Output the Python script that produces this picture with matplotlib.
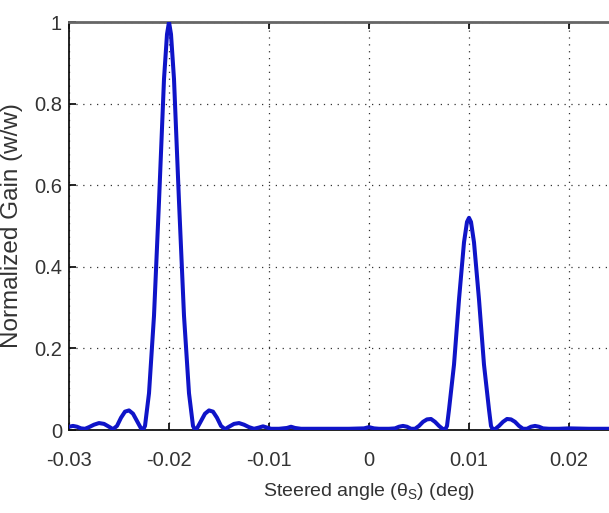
import matplotlib
matplotlib.use("Agg")
import matplotlib.pyplot as plt

# ---- data ----
angle = [-0.0300, -0.0296, -0.0292, -0.0288, -0.0284, -0.0280, -0.0275, -0.0270, -0.0265,
         -0.0260, -0.0256, -0.0252, -0.0248, -0.0244, -0.0240, -0.0236, -0.0232, -0.0228,
         -0.0226, -0.0224, -0.0220, -0.0215, -0.0210, -0.0205, -0.0202, -0.0200, -0.0198,
         -0.0195, -0.0190, -0.0185, -0.0180, -0.0176, -0.0174, -0.0172, -0.0168, -0.0164,
         -0.0160, -0.0156, -0.0152, -0.0148, -0.0144, -0.0140, -0.0135, -0.0130, -0.0125,
         -0.0120, -0.0115, -0.0110, -0.0106, -0.0102, -0.0098, -0.0090, -0.0082, -0.0078,
         -0.0074, -0.0068, -0.0060, -0.0040, -0.0020, -0.0005, 0.0000, 0.0005, 0.0010,
         0.0020, 0.0026, 0.0030, 0.0034, 0.0038, 0.0042, 0.0046, 0.0050, 0.0054, 0.0058,
         0.0062, 0.0066, 0.0070, 0.0074, 0.0076, 0.0078, 0.0080, 0.0085, 0.0090, 0.0095,
         0.0098, 0.0100, 0.0102, 0.0105, 0.0110, 0.0115, 0.0120, 0.0122, 0.0124, 0.0126,
         0.0130, 0.0134, 0.0138, 0.0142, 0.0146, 0.0150, 0.0154, 0.0158, 0.0162, 0.0166,
         0.0170, 0.0174, 0.0180, 0.0190, 0.0200, 0.0220, 0.0250, 0.0300]
gain = [0.008, 0.010, 0.008, 0.004, 0.003, 0.007, 0.013, 0.017, 0.015,
        0.008, 0.002, 0.010, 0.030, 0.045, 0.048, 0.040, 0.022, 0.004,
        0.000, 0.010, 0.090, 0.280, 0.560, 0.860, 0.970, 1.000, 0.970,
        0.860, 0.560, 0.280, 0.090, 0.010, 0.000, 0.004, 0.022, 0.040,
        0.048, 0.045, 0.030, 0.010, 0.002, 0.008, 0.015, 0.017, 0.013,
        0.007, 0.003, 0.006, 0.009, 0.006, 0.003, 0.003, 0.005, 0.008,
        0.005, 0.003, 0.003, 0.003, 0.003, 0.004, 0.007, 0.004, 0.003,
        0.003, 0.004, 0.008, 0.010, 0.008, 0.003, 0.003, 0.010, 0.020, 0.026,
        0.027, 0.020, 0.010, 0.002, 0.000, 0.010, 0.050, 0.160, 0.320, 0.460,
        0.510, 0.520, 0.510, 0.460, 0.320, 0.160, 0.050, 0.010, 0.000, 0.002,
        0.010, 0.020, 0.027, 0.026, 0.020, 0.010, 0.003, 0.003, 0.008, 0.010,
        0.008, 0.004, 0.003, 0.003, 0.004, 0.003, 0.003, 0.003]

xticks = [-0.03, -0.02, -0.01, 0.0, 0.01, 0.02, 0.03]
xticklabels = ["-0.03", "-0.02", "-0.01", "0", "0.01", "0.02", ""]
yticks = [0, 0.2, 0.4, 0.6, 0.8, 1.0]
yticklabels = ["0", "0.2", "0.4", "0.6", "0.8", "1"]

plt.rcParams["font.family"] = ["Liberation Sans", "DejaVu Sans"]
plt.rcParams["mathtext.fontset"] = "custom"
plt.rcParams["mathtext.rm"] = "Liberation Sans"
plt.rcParams["mathtext.it"] = "Liberation Sans"

W, H = 609, 513
fig = plt.figure(figsize=(W / 100, H / 100), dpi=100)
left, right, top, bottom = 69, 669, 22, 430
ax = fig.add_axes([left / W, (H - bottom) / H, (right - left) / W, (bottom - top) / H])

ax.plot(angle, gain, color="#0f14c8", lw=2.9, solid_joinstyle="round", zorder=3)

ax.set_xlim(-0.03, 0.03)
ax.set_ylim(0, 1)
ax.set_xticks(xticks)
ax.set_xticklabels(xticklabels)
ax.set_yticks(yticks)
ax.set_yticklabels(yticklabels)
ax.grid(True, color="#333333", linestyle=(0, (1, 4.5)), linewidth=0.9)
ax.tick_params(direction="in", length=5, width=1.2, top=True, right=True,
               labelsize=14.5, colors="black", labelcolor="#333333")
ax.tick_params(axis="x", pad=15)
ax.tick_params(axis="y", pad=5)
for s in ["left", "bottom"]:
    ax.spines[s].set_color("#111111")
    ax.spines[s].set_linewidth(1.3)
ax.spines["top"].set_color("#666666")
ax.spines["top"].set_linewidth(2.0)

ax.set_xlabel(r"Steered angle ($\mathrm{\theta}_\mathrm{S}$) (deg)", fontsize=14,
              color="#333333", labelpad=8)
ax.set_ylabel("Normalized Gain (w/w)", fontsize=17.5, color="#333333", labelpad=8)

fig.savefig("out.png", dpi=100)
